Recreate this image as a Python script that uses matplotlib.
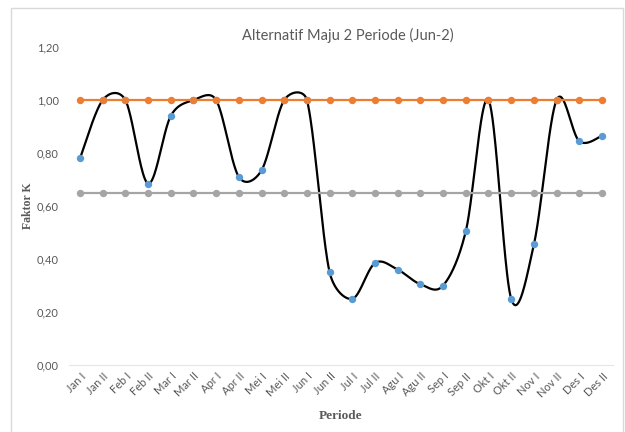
import numpy as np
import matplotlib
matplotlib.use("Agg")
import matplotlib.pyplot as plt
from matplotlib.patches import Rectangle

periode = ["Jan I", "Jan II", "Feb I", "Feb II", "Mar I", "Mar II",
           "Apr I", "Apr II", "Mei I", "Mei II", "Jun I", "Jun II",
           "Jul I", "Jul II", "Agu I", "Agu II", "Sep I", "Sep II",
           "Okt I", "Okt II", "Nov I", "Nov II", "Des I", "Des II"]
faktor_k = [0.78, 1.00, 1.00, 0.685, 0.94, 1.00,
            1.00, 0.71, 0.735, 1.00, 1.00, 0.35,
            0.25, 0.385, 0.36, 0.305, 0.30, 0.505,
            1.00, 0.25, 0.455, 1.00, 0.845, 0.865]
batas_atas = [1.00] * 24
batas_bawah = [0.65] * 24

x = np.arange(len(periode))
y = np.array(faktor_k)


# kurva halus ala Excel: bezier Catmull-Rom, lengan kontrol dibatasi
# setengah panjang segmen (dihitung di ruang piksel)
def kurva_halus(xs, ys, skx=22.7, sky=265.0, n=40):
    px = np.concatenate(([xs[0]], xs, [xs[-1]])) * skx
    py = np.concatenate(([ys[0]], ys, [ys[-1]])) * sky
    hx, hy = [], []
    t = np.linspace(0, 1, n)
    for i in range(1, len(px) - 2):
        p0 = np.array([px[i], py[i]])
        p1 = np.array([px[i + 1], py[i + 1]])
        d12 = np.hypot(*(p1 - p0))
        a1 = (np.array([px[i + 1] - px[i - 1], py[i + 1] - py[i - 1]])) / 6
        a2 = (np.array([px[i + 2] - px[i], py[i + 2] - py[i]])) / 6
        for a in (a1, a2):
            la = np.hypot(*a)
            if la > d12 / 2:
                a *= (d12 / 2) / la
        c1 = p0 + a1
        c2 = p1 - a2
        b = (np.outer((1-t)**3, p0) + np.outer(3*(1-t)**2*t, c1)
             + np.outer(3*(1-t)*t**2, c2) + np.outer(t**3, p1))
        hx.extend(b[:, 0] / skx)
        hy.extend(b[:, 1] / sky)
    return np.array(hx), np.array(hy)


fig = plt.figure(figsize=(6.25, 4.32), dpi=100)
ax = fig.add_axes([0.1098, 0.155, 0.8715, 0.736])

sx, sy = kurva_halus(x.astype(float), y)
ax.plot(sx, sy, color="black", lw=1.6, zorder=2)
ax.plot(x, y, ls="none", marker="o", ms=4.3, color="#5B9BD5", zorder=3)
ax.plot(x, batas_atas, color="#ED7D31", lw=1.6, marker="o", ms=4.3, zorder=4)
ax.plot(x, batas_bawah, color="#A5A5A5", lw=1.6, marker="o", ms=4.3, zorder=4)

ax.set_xlim(-0.5, len(periode) - 0.5)
ax.set_ylim(0, 1.2)
ax.set_yticks(np.arange(0, 1.21, 0.2))
ax.set_yticklabels([("%.2f" % v).replace(".", ",") for v in np.arange(0, 1.21, 0.2)])
ax.set_xticks(x)
ax.set_xticklabels(periode, rotation=45, ha="right", rotation_mode="anchor")

for s in ["top", "right", "left"]:
    ax.spines[s].set_visible(False)
ax.spines["bottom"].set_color("#E6E6E6")
ax.tick_params(length=0, colors="#595959", labelsize=8)
for lbl in ax.get_xticklabels() + ax.get_yticklabels():
    lbl.set_fontfamily("Lato")
ax.tick_params(axis="y", pad=7)
ax.tick_params(axis="x", pad=4)

ax.set_title("Alternatif Maju 2 Periode (Jun-2)", fontsize=10.5, color="#595959",
             fontfamily="Lato", pad=5, x=0.512)
ax.set_ylabel("Faktor K", fontfamily="Liberation Serif", fontweight="bold",
              fontsize=8.5, color="#595959", labelpad=2)
ax.set_xlabel("Periode", fontfamily="Liberation Serif", fontweight="bold",
              fontsize=9.5, color="#595959", labelpad=8)

fig.patches.append(Rectangle((11 / 625, -0.01), 612 / 625, 1 - 8 / 432 + 0.01,
                             transform=fig.transFigure, fill=False,
                             edgecolor="#D9D9D9", lw=1))

fig.savefig("out.png", dpi=100)
